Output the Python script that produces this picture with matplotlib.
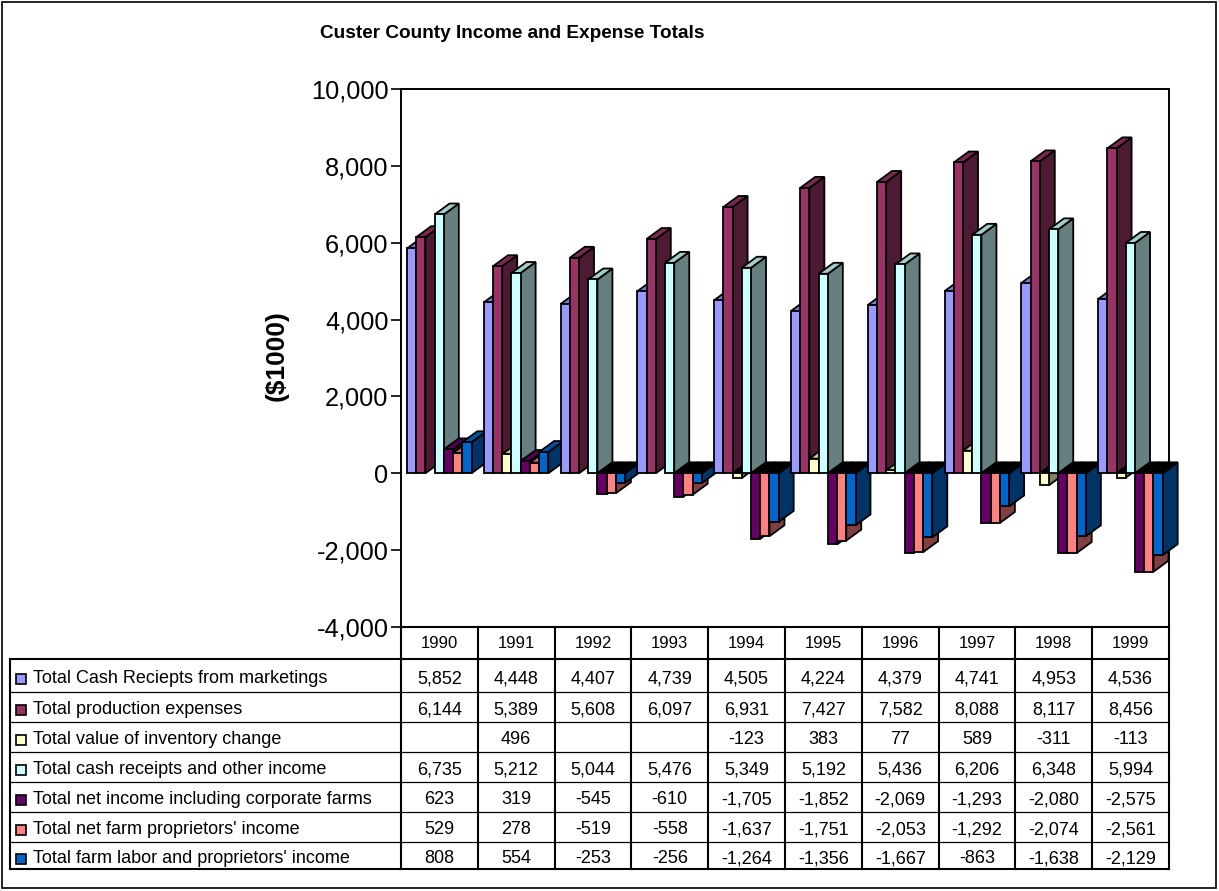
import numpy as np
import matplotlib.pyplot as plt
from matplotlib.patches import Polygon, Rectangle
from matplotlib.ticker import FuncFormatter
from matplotlib.colors import to_rgb

plt.rcParams['font.family'] = ['Liberation Sans', 'DejaVu Sans']

# data (values in $1000)
years = ['1990', '1991', '1992', '1993', '1994', '1995', '1996', '1997', '1998', '1999']
series_names = ['Total Cash Reciepts from marketings',
                'Total production expenses',
                'Total value of inventory change',
                'Total cash receipts and other income',
                'Total net income including corporate farms',
                "Total net farm proprietors' income",
                "Total farm labor and proprietors' income"]
cash_marketings = [5852, 4448, 4407, 4739, 4505, 4224, 4379, 4741, 4953, 4536]
production_exp = [6144, 5389, 5608, 6097, 6931, 7427, 7582, 8088, 8117, 8456]
inventory_chg = [np.nan, 496, np.nan, np.nan, -123, 383, 77, 589, -311, -113]
cash_other = [6735, 5212, 5044, 5476, 5349, 5192, 5436, 6206, 6348, 5994]
net_income_corp = [623, 319, -545, -610, -1705, -1852, -2069, -1293, -2080, -2575]
net_farm_prop = [529, 278, -519, -558, -1637, -1751, -2053, -1292, -2074, -2561]
farm_labor_prop = [808, 554, -253, -256, -1264, -1356, -1667, -863, -1638, -2129]

series = [cash_marketings, production_exp, inventory_chg, cash_other,
          net_income_corp, net_farm_prop, farm_labor_prop]
colors = ['#9999FF', '#993366', '#FFFFCC', '#CCFFFF', '#660066', '#FF8080', '#0066CC']


def shade(c, f):
    r, g, b = to_rgb(c)
    return (r * f, g * f, b * f)


W, H = 1219, 891
fig = plt.figure(figsize=(W / 100, H / 100), dpi=100)

# background axes in pixel coordinates for border and data table
bg = fig.add_axes([0, 0, 1, 1], zorder=0)
bg.set_xlim(0, W)
bg.set_ylim(H, 0)
bg.axis('off')
bg.add_patch(Rectangle((2, 2), W - 5, H - 5, fill=False, lw=1.2, ec='black'))

# plot area
px_left, px_right, px_top, px_bot = 401, 1169, 89, 627
ax = fig.add_axes([px_left / W, 1 - px_bot / H, (px_right - px_left) / W, (px_bot - px_top) / H],
                  zorder=1)
ax.set_facecolor('none')
ax.set_xlim(0, len(years))
ax.set_ylim(-4000, 10000)
ax.set_yticks(np.arange(-4000, 10001, 2000))
ax.yaxis.set_major_formatter(FuncFormatter(lambda v, p: f'{v:,.0f}'))
ax.tick_params(axis='y', direction='out', length=7, width=1.2, labelsize=18.3, pad=2)
ax.set_xticks([])
for s in ax.spines.values():
    s.set_linewidth(1.4)
    s.set_zorder(1)

fig.text(277 / W, 1 - 356 / H, '($1000)', rotation=90, ha='center', va='center',
         fontsize=19, fontweight='bold')

# pseudo 3D columns
off, w = 0.078, 0.12
dx, dy = 0.195, 285
lw = 1.3
z = 3
for i in range(len(years)):
    for j, vals in enumerate(series):
        v = vals[i]
        if np.isnan(v):
            continue
        x0 = i + off + j * w
        x1 = x0 + w
        c = colors[j]
        side = Polygon([(x1, 0), (x1 + dx, dy), (x1 + dx, v + dy), (x1, v)],
                       fc=shade(c, 0.5), ec='black', lw=lw, zorder=z, clip_on=False)
        if v >= 0:
            top = Polygon([(x0, v), (x1, v), (x1 + dx, v + dy), (x0 + dx, v + dy)],
                          fc=shade(c, 0.8), ec='black', lw=lw, zorder=z + 1, clip_on=False)
        else:
            top = Polygon([(x0, 0), (x1, 0), (x1 + dx, dy), (x0 + dx, dy)],
                          fc='black', ec='black', lw=lw, zorder=z + 1, clip_on=False)
        ax.add_patch(side)
        ax.add_patch(top)
        ax.bar(x0, v, width=w, align='edge', color=c, edgecolor='black', lw=lw,
               zorder=z + 2, clip_on=False)
        z += 3

# title
fig.text(512 / W, 1 - 33 / H, 'Custer County Income and Expense Totals',
         ha='center', va='center', fontsize=13.7, fontweight='bold')

# data table
col_edges = np.linspace(px_left, px_right, len(years) + 1)
row_edges = [659, 692, 722, 752, 782, 812, 842, 869]
tab_left = 10
lk = dict(color='black', solid_capstyle='projecting')
for xe in col_edges:
    bg.plot([xe, xe], [627, 869], lw=1.5, **lk)
bg.plot([px_left, px_right], [627, 627], lw=1.5, **lk)
bg.plot([tab_left, tab_left], [659, 869], lw=1.5, **lk)
bg.plot([tab_left, px_right], [659, 659], lw=1.5, **lk)
bg.plot([tab_left, px_right], [869, 869], lw=1.5, **lk)
for ye in row_edges[1:-1]:
    bg.plot([tab_left, px_right], [ye, ye], lw=0.9, **lk)

for k, yr in enumerate(years):
    bg.text((col_edges[k] + col_edges[k + 1]) / 2, 644, yr, ha='center', va='center', fontsize=12)

for r, (name, vals) in enumerate(zip(series_names, series)):
    yc = (row_edges[r] + row_edges[r + 1]) / 2 + 3
    bg.add_patch(Rectangle((16, yc - 5), 10, 10, fc=colors[r], ec='black', lw=1.2))
    bg.text(33, yc, name, ha='left', va='center', fontsize=13)
    for k, v in enumerate(vals):
        if np.isnan(v):
            continue
        bg.text((col_edges[k] + col_edges[k + 1]) / 2, yc, f'{v:,.0f}',
                ha='center', va='center', fontsize=13)

fig.savefig('out.png', dpi=100)
